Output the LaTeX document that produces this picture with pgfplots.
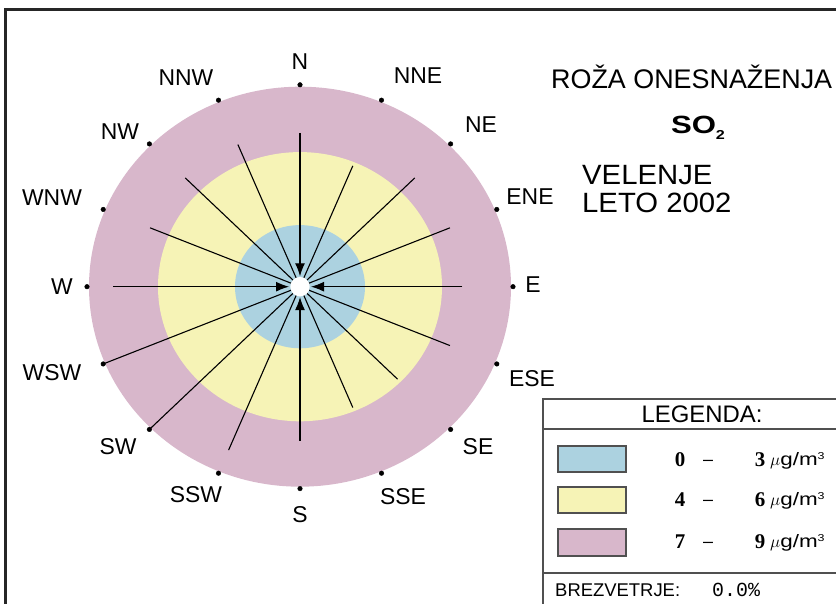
\documentclass[border=0pt]{standalone}
\usepackage{fontspec}
\setmainfont{Liberation Sans}
\newfontfamily\serifb{Liberation Serif}
\newfontfamily\mono{Liberation Mono}
\newfontfamily\widesans[FakeStretch=1.05]{Liberation Sans}
\newfontfamily\boldwide[FakeStretch=1.25]{Liberation Sans}
\newfontfamily\unitsans[FakeStretch=1.25]{Liberation Sans}
\usepackage{pgfplots}
\usepackage{pgfplotstable}
\pgfplotsset{compat=1.18}
\usetikzlibrary{arrows.meta}

\definecolor{ringpink}{RGB}{216,183,203}
\definecolor{ringyellow}{RGB}{246,243,182}
\definecolor{ringblue}{RGB}{172,210,224}
\definecolor{boxline}{RGB}{80,80,80}

% direction (deg, clockwise from N) and concentration (ug/m3)
\pgfplotstableread{
a v
0 7
90 7
180 7
270 8
}\cardinal
\pgfplotstableread{
a v
22.5 6
45 7
67.5 7
112.5 7
135 6
157.5 6
202.5 8
225 9
247.5 9
292.5 7
315 7
337.5 7
}\others
% compass points on the outer ring
\pgfplotstableread{
a r
0 213
22.5 213
45 213
67.5 213
90 213
112.5 213
135 213
157.5 213
180 213
202.5 213
225 213
247.5 213
270 213
292.5 213
315 213
337.5 213
}\dirs

% radius in picture units: r = 24.33*v - 8, centre at (300,317.3)
\newcommand{\rad}{(24.33*\thisrow{v}-8)}
\newcommand{\unit}{$\mu$g/m\raisebox{6bp}{\fontsize{10}{10}\selectfont 3}}

\begin{document}
\begin{tikzpicture}
\begin{axis}[x=1bp, y=1bp, xmin=0, xmax=836, ymin=0, ymax=604,
  hide axis, clip=false, scale only axis]

% outer frame
\draw[line width=2.7bp, black!85] (axis cs:836,594.3) -- (axis cs:5.8,594.3) -- (axis cs:5.8,0);

% concentration bands
\fill[ringpink] (axis cs:300,317.3) ellipse [x radius=211, y radius=200];
\fill[ringyellow] (axis cs:300,317.3) ellipse [x radius=142, y radius=134.6];
\fill[ringblue] (axis cs:300,317.3) ellipse [x radius=65, y radius=61.6];

\addplot[black, line width=1.1bp,
  quiver={u={-\rad*sin(\thisrow{a})}, v={-\rad*cos(\thisrow{a})/1.055}}]
  table[x expr={300+\rad*sin(\thisrow{a})}, y expr={317.3+\rad*cos(\thisrow{a})/1.055}] {\others};

\fill[white] (axis cs:300,317.3) circle [radius=9.7];

\addplot[black, line width=1.1bp,
  quiver={u={(11-\rad)*sin(\thisrow{a})}, v={(11-\rad)*cos(\thisrow{a})/1.055},
    every arrow/.append style={-{Latex[length=13bp,width=10bp]}}}]
  table[x expr={300+\rad*sin(\thisrow{a})}, y expr={317.3+\rad*cos(\thisrow{a})/1.055}] {\cardinal};

\addplot[only marks, mark=*, mark size=2.3bp, black]
  table[x expr={300+\thisrow{r}*sin(\thisrow{a})}, y expr={317.3+\thisrow{r}*cos(\thisrow{a})/1.055}] {\dirs};

% direction labels
\begin{scope}[every node/.style={inner sep=0pt, font=\fontsize{23}{23}\selectfont}]
\node at (axis cs:300,542) {N};
\node at (axis cs:418,528) {NNE};
\node at (axis cs:481,479) {NE};
\node at (axis cs:530,407) {ENE};
\node at (axis cs:533,319) {E};
\node at (axis cs:532,225) {ESE};
\node at (axis cs:478,157) {SE};
\node at (axis cs:403,107) {SSE};
\node at (axis cs:300,89) {S};
\node at (axis cs:196,109) {SSW};
\node at (axis cs:118,157) {SW};
\node at (axis cs:52,231) {WSW};
\node at (axis cs:62,317) {W};
\node at (axis cs:52,406) {WNW};
\node at (axis cs:120,472) {NW};
\node at (axis cs:186,526) {NNW};
\end{scope}

% titles
\node[anchor=west, inner sep=0pt, font=\fontsize{27}{27}\selectfont] at (axis cs:551,527) {ROŽA ONESNAŽENJA};
\node[inner sep=0pt, font=\boldwide\bfseries\fontsize{25}{25}\selectfont] at (axis cs:698,476)
  {SO\raisebox{-6bp}{\fontsize{13}{13}\selectfont 2}};
\node[anchor=west, inner sep=0pt, font=\widesans\fontsize{28}{28}\selectfont] at (axis cs:582,429) {VELENJE};
\node[anchor=west, inner sep=0pt, font=\widesans\fontsize{28}{28}\selectfont] at (axis cs:582,401) {LETO 2002};

% legend box
\draw[line width=1.5bp, boxline] (axis cs:836,205) -- (axis cs:543,205) -- (axis cs:543,0);
\draw[line width=1.5bp, boxline] (axis cs:543,175) -- (axis cs:836,175);
\draw[line width=1.5bp, boxline] (axis cs:543,31) -- (axis cs:836,31);
\node[inner sep=0pt, font=\fontsize{24}{24}\selectfont] at (axis cs:702,190) {LEGENDA:};

\filldraw[fill=ringblue, draw=boxline, line width=1.2bp] (axis cs:558,132) rectangle (axis cs:626,158);
\filldraw[fill=ringyellow, draw=boxline, line width=1.2bp] (axis cs:558,91) rectangle (axis cs:626,117);
\filldraw[fill=ringpink, draw=boxline, line width=1.2bp] (axis cs:558,48) rectangle (axis cs:626,75);

\begin{scope}[every node/.style={inner sep=0pt}]
\node[font=\serifb\bfseries\fontsize{21}{21}\selectfont] at (axis cs:680,144) {0};
\node[font=\serifb\bfseries\fontsize{21}{21}\selectfont] at (axis cs:680,104) {4};
\node[font=\serifb\bfseries\fontsize{21}{21}\selectfont] at (axis cs:680,62) {7};
\node[font=\fontsize{18}{18}\selectfont] at (axis cs:708,141) {–};
\node[font=\fontsize{18}{18}\selectfont] at (axis cs:708,101) {–};
\node[font=\fontsize{18}{18}\selectfont] at (axis cs:708,59) {–};
\node[font=\serifb\bfseries\fontsize{21}{21}\selectfont] at (axis cs:760,144) {3};
\node[font=\serifb\bfseries\fontsize{21}{21}\selectfont] at (axis cs:760,104) {6};
\node[font=\serifb\bfseries\fontsize{21}{21}\selectfont] at (axis cs:760,62) {9};
\node[anchor=base west, font=\unitsans\fontsize{18}{18}\selectfont] at (axis cs:770,138) {\unit};
\node[anchor=base west, font=\unitsans\fontsize{18}{18}\selectfont] at (axis cs:770,98) {\unit};
\node[anchor=base west, font=\unitsans\fontsize{18}{18}\selectfont] at (axis cs:770,56) {\unit};
\node[anchor=west, font=\fontsize{18.5}{18.5}\selectfont] at (axis cs:555,14) {BREZVETRJE:};
\node[anchor=west, font=\mono\fontsize{20}{20}\selectfont] at (axis cs:712,14) {0.0\%};
\end{scope}

\end{axis}
\pgfresetboundingbox
\path[use as bounding box] (current axis.south west) rectangle (current axis.north east);
\end{tikzpicture}
\end{document}
